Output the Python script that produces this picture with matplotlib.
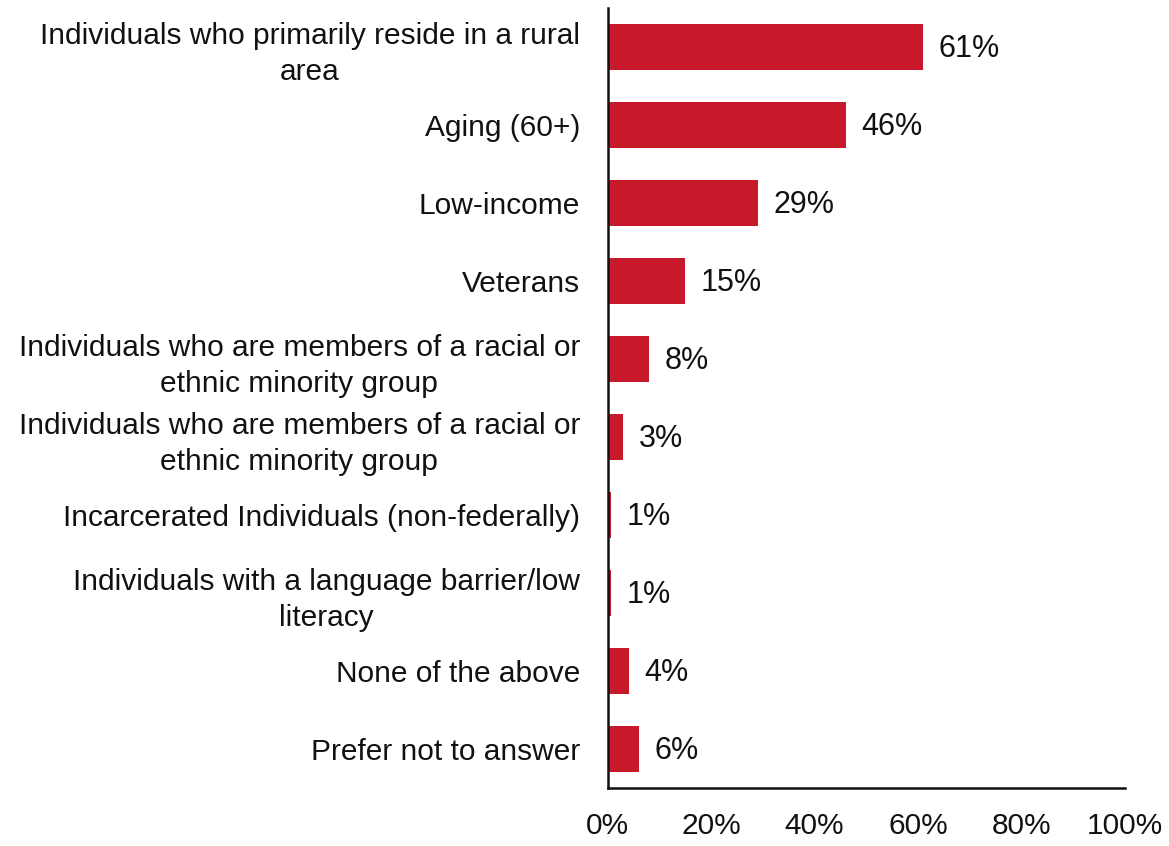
import matplotlib.pyplot as plt
import numpy as np

plt.rcParams['font.family'] = ['Liberation Sans', 'DejaVu Sans']

categories = [
    'Individuals who primarily reside in a rural\narea',
    'Aging (60+)',
    'Low-income',
    'Veterans',
    'Individuals who are members of a racial or\nethnic minority group',
    'Individuals who are members of a racial or\nethnic minority group',
    'Incarcerated Individuals (non-federally)',
    'Individuals with a language barrier/low\nliteracy',
    'None of the above',
    'Prefer not to answer',
]
values = [61, 46, 29, 15, 8, 3, 1, 1, 4, 6]
# the 1% bars are drawn as thin slivers in the original
bar_widths = [61, 46, 29, 15, 8, 3, 0.6, 0.6, 4, 6]
xticks = [0, 20, 40, 60, 80, 100]

fig = plt.figure(figsize=(11.69, 8.46), dpi=100)
ax = fig.add_axes([0.520, 0.0686, 0.442, 0.9219])

y = np.arange(len(categories))
ax.barh(y, bar_widths, height=0.59, color='#c8192b')

for yi, v, w in zip(y, values, bar_widths):
    ax.text(w + 3.0, yi + 0.03, f'{v}%', va='center', ha='left', fontsize=22, color='#111111')

ax.set_yticks(y)
ax.set_yticklabels(categories, fontsize=21.5, multialignment='center',
                   linespacing=1.35, color='#111111')
ax.set_xticks(xticks)
ax.set_xticklabels([f'{t}%' for t in xticks], fontsize=21.5, color='#111111')
ax.tick_params(axis='both', length=0)
ax.tick_params(axis='y', pad=20)
ax.tick_params(axis='x', pad=17)

ax.set_xlim(0, 100)
ax.set_ylim(len(categories) - 0.5, -0.5)

for s in ['top', 'right']:
    ax.spines[s].set_visible(False)
ax.spines['left'].set_linewidth(1.8)
ax.spines['bottom'].set_linewidth(1.8)
ax.spines['left'].set_color('#111111')
ax.spines['bottom'].set_color('#111111')

fig.savefig('out.png', dpi=100)
